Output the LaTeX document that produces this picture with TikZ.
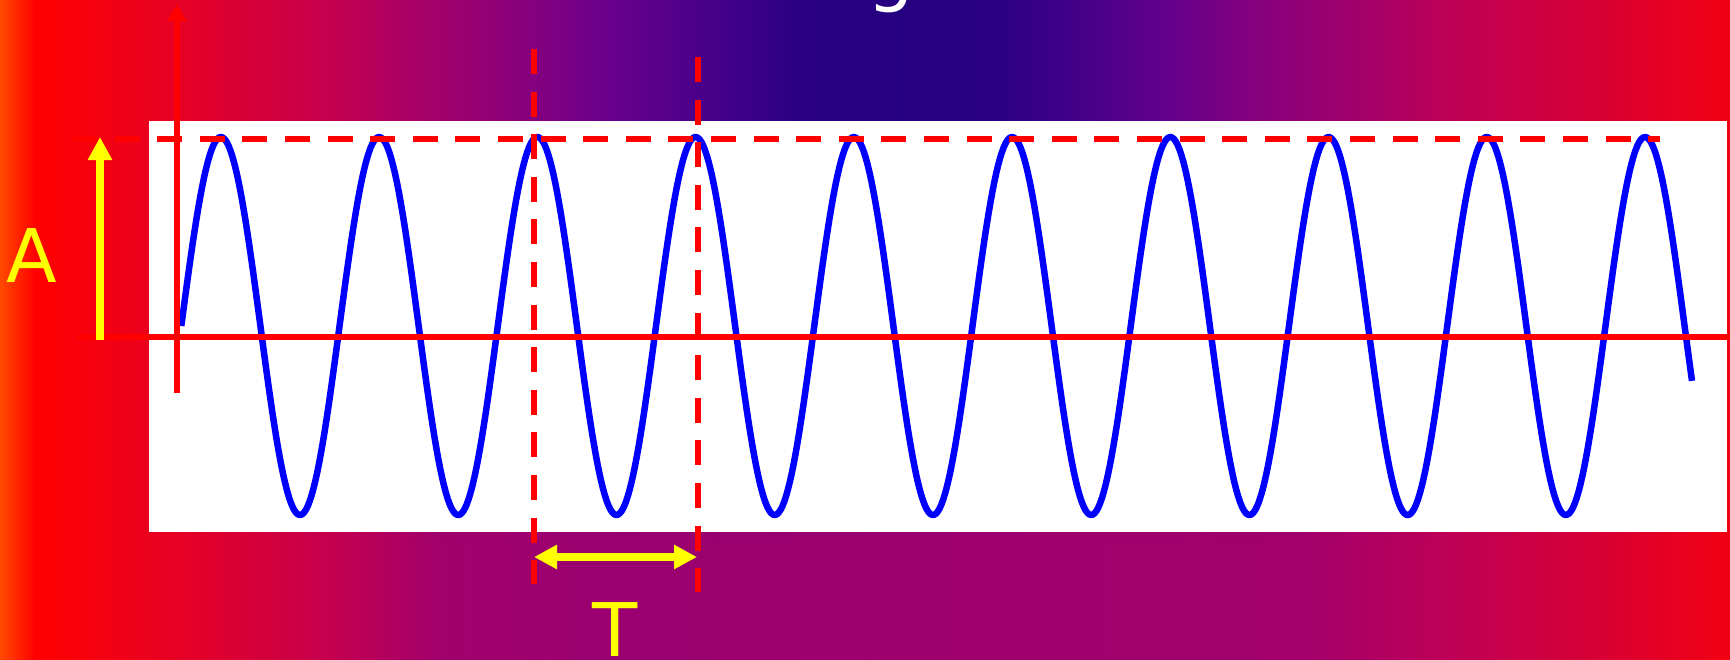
\documentclass[tikz,border=0pt]{standalone}
\usepackage{fontspec}
\newfontfamily\dejavu{DejaVu Sans}
\usetikzlibrary{arrows.meta,fadings}

% bottom profile colours
\definecolor{bA}{HTML}{FF4A00}
\definecolor{bB}{HTML}{FF0000}
\definecolor{bC}{HTML}{E2002A}
\definecolor{bD}{HTML}{C4004F}
\definecolor{bE}{HTML}{A2006C}
\definecolor{bF}{HTML}{9A0070}
\definecolor{bG}{HTML}{A3006C}
\definecolor{bH}{HTML}{BE0056}
\definecolor{bI}{HTML}{D80034}
\definecolor{bJ}{HTML}{F20012}
% top profile colours
\definecolor{tA}{HTML}{B3005E}
\definecolor{tB}{HTML}{8F0078}
\definecolor{tC}{HTML}{6A008C}
\definecolor{tD}{HTML}{45008A}
\definecolor{tE}{HTML}{2C0084}
\definecolor{tF}{HTML}{250080}
\definecolor{tG}{HTML}{2C0084}
\definecolor{tH}{HTML}{3A0088}
\definecolor{tI}{HTML}{60008C}
\definecolor{tJ}{HTML}{8A007C}
\definecolor{tK}{HTML}{A80066}
\definecolor{tL}{HTML}{BC0058}

\pgfdeclarehorizontalshading{bottomprof}{100bp}{color(0bp)=(bA); color(25bp)=(bA);
 color(26.012bp)=(bB); color(30.780bp)=(bC); color(34.538bp)=(bD); color(37.717bp)=(bE);
 color(42.341bp)=(bF); color(62.572bp)=(bG); color(66.908bp)=(bH); color(71.243bp)=(bI);
 color(75bp)=(bJ); color(100bp)=(bJ)}
\pgfdeclarehorizontalshading{topprof}{100bp}{color(0bp)=(tA); color(25bp)=(tA);
 color(30.66bp)=(tB); color(35.71bp)=(tC); color(40.90bp)=(tD); color(44.53bp)=(tE);
 color(49.53bp)=(tF); color(54.25bp)=(tG); color(56.51bp)=(tH); color(61.70bp)=(tI);
 color(66.93bp)=(tJ); color(72.12bp)=(tK); color(75bp)=(tL); color(100bp)=(tL)}

\tikzfading[name=fadedown, top color=transparent!0, bottom color=transparent!100]

\definecolor{wavecol}{HTML}{0000FF}
\definecolor{redc}{HTML}{FF0000}
\definecolor{yel}{HTML}{FFFF00}

\begin{document}
\begin{tikzpicture}[x=1pt,y=-1pt,
  redline/.style={draw=redc, line width=6pt},
  reddash/.style={draw=redc, line width=6pt, dash pattern=on 25pt off 17.6pt},
  yarrow/.style={draw=yel, line width=8pt},
  ytip/.tip={Triangle[length=23pt,width=23pt]},
  wave/.style={draw=wavecol, line width=6.5pt, line join=round},
  lbl/.style={text=yel, font=\dejavu\fontsize{74}{80}\selectfont, inner sep=0pt},
  ttl/.style={text=white, font=\dejavu\fontsize{74}{80}\selectfont, inner sep=0pt}]
\useasboundingbox (0,0) rectangle (1730,659);
\clip (0,0) rectangle (1730,659);
% background
\shade[shading=bottomprof] (0,0) rectangle (1730,659);
\shade[shading=topprof] (380,0) rectangle (1440,130);
\shade[shading=topprof, path fading=fadedown, fit fading=true] (380,128) rectangle (1440,540);
% title (cut off at top)
\node[ttl, anchor=base] (title) at (891,-2.4) {g};
% plot area
\fill[white] (149,121) rectangle (1727,532);
% wave
\draw[wave] plot[domain=181.3:1692, samples=800] (\x, {326-189*sin((\x-181.3)*2.27503)});
% axes
\coordinate (xl) at (77,337);
\coordinate (xr) at (1730,337);
\coordinate (yb) at (177,393);
\coordinate (yt) at (177,4);
\draw[redline] (xl) -- (xr);
\draw[redline, -{Triangle[length=17pt,width=18pt]}] (yb) -- (yt);
% dashed guides
\coordinate (hl) at (72,139);
\coordinate (hr) at (1660,139);
\coordinate (v1t) at (534,49);
\coordinate (v1b) at (534,584);
\coordinate (v2t) at (698,57);
\coordinate (v2b) at (698,592);
\draw[reddash] (hl) -- (hr);
\draw[reddash] (v1t) -- (v1b);
\draw[reddash] (v2t) -- (v2b);
% amplitude arrow
\coordinate (ab) at (100,340);
\coordinate (at) at (100,137);
\draw[yarrow, -{ytip}] (ab) -- (at);
% period arrow
\coordinate (pl) at (534,557);
\coordinate (pr) at (697,557);
\draw[yarrow, {ytip}-{ytip}] (pl) -- (pr);
% labels
\node[lbl, anchor=base] (A) at (31.5,282) {A};
\node[lbl, anchor=base] (T) at (615,656) {T};
\end{tikzpicture}
\end{document}
